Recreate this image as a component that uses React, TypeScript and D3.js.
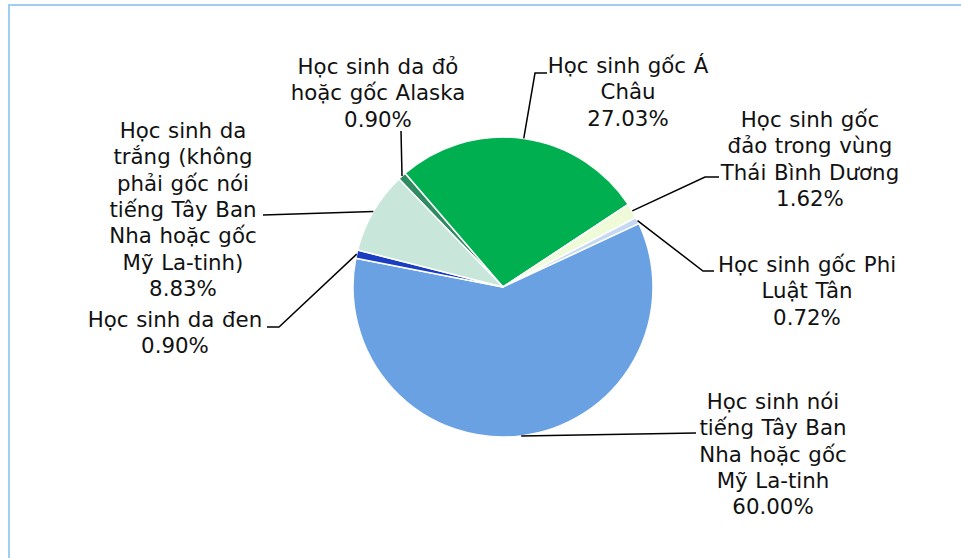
import React from "react";
import * as d3 from "d3";

const categories = [
  "Học sinh da đỏ hoặc gốc Alaska",
  "Học sinh gốc Á Châu",
  "Học sinh gốc đảo trong vùng Thái Bình Dương",
  "Học sinh gốc Phi Luật Tân",
  "Học sinh nói tiếng Tây Ban Nha hoặc gốc Mỹ La-tinh",
  "Học sinh da đen",
  "Học sinh da trắng (không phải gốc nói tiếng Tây Ban Nha hoặc gốc Mỹ La-tinh)",
];
const values = [0.9, 27.03, 1.62, 0.72, 60.0, 0.9, 8.83];
const labelLines = [
  ["Học sinh da đỏ", "hoặc gốc Alaska"],
  ["Học sinh gốc Á", "Châu"],
  ["Học sinh gốc", "đảo trong vùng", "Thái Bình Dương"],
  ["Học sinh gốc Phi", "Luật Tân"],
  ["Học sinh nói", "tiếng Tây Ban", "Nha hoặc gốc", "Mỹ La-tinh"],
  ["Học sinh da đen"],
  ["Học sinh da", "trắng (không", "phải gốc nói", "tiếng Tây Ban", "Nha hoặc gốc", "Mỹ La-tinh)"],
];
const colors = ["#2e8b62", "#00b050", "#eefad8", "#c6d9f0", "#6aa1e3", "#1b3ec0", "#c8e6da"];

// layout: label centre x, first baseline, leader points from label side
const labelLayout = [
  { x: 378, y: 74, pts: [[400, 131]] },
  { x: 628, y: 73, pts: [[547, 73], [535, 73]] },
  { x: 810, y: 127, pts: [[719, 177], [705, 177]] },
  { x: 807, y: 272, pts: [[714, 271], [703, 271]] },
  { x: 773, y: 409, pts: [[696, 433]] },
  { x: 175, y: 327, pts: [[267, 327], [279, 327]] },
  { x: 183, y: 138, pts: [[263, 215]] },
];

const W = 961;
const H = 558;
const cx = 503;
const cy = 287;
const R = 150;
const LH = 26.3;

export default function App() {
  const start = (-43.94 * Math.PI) / 180;
  const pie = d3
    .pie<number>()
    .sort(null)
    .value((d) => d)
    .startAngle(start)
    .endAngle(start + 2 * Math.PI);
  const arcs = pie(values);
  const arc = d3.arc<d3.PieArcDatum<number>>().innerRadius(0).outerRadius(R);
  const fmt = d3.format(".2f");

  return (
    <svg
      width={W}
      height={H}
      style={{ position: "absolute", left: 0, top: 0, background: "#fff" }}
      fontFamily="'DejaVu Sans', Verdana, sans-serif"
    >
      <rect x={9} y={5} width={W + 40} height={H + 40} fill="#fff" stroke="#9fcfee" strokeWidth={2} />
      <g transform={`translate(${cx},${cy})`}>
        {arcs.map((a, i) => (
          <path key={i} d={arc(a) || ""} fill={colors[i]} stroke="#fff" strokeWidth={1.5} strokeLinejoin="round" />
        ))}
      </g>
      {arcs.map((a, i) => {
        const mid = (a.startAngle + a.endAngle) / 2;
        const px = cx + R * Math.sin(mid);
        const py = cy - R * Math.cos(mid);
        const lay = labelLayout[i];
        const pts: [number, number][] = [[px, py], ...lay.pts.slice().reverse().map((p) => [p[0], p[1]] as [number, number])];
        if (i === 0) pts[1] = [px - 1, lay.pts[0][1]];
        const line = d3.line()(pts) || "";
        return <path key={"l" + i} d={line} fill="none" stroke="#000" strokeWidth={1.5} />;
      })}
      {labelLayout.map((lay, i) => {
        const lines = [...labelLines[i], fmt(values[i]) + "%"];
        return (
          <text key={"t" + i} x={lay.x} y={lay.y} textAnchor="middle" fontSize={21.33} fill="#111" wordSpacing={0.8}>
            {lines.map((s, j) => (
              <tspan key={j} x={lay.x} y={lay.y + j * LH}>
                {s}
              </tspan>
            ))}
          </text>
        );
      })}
    </svg>
  );
}
